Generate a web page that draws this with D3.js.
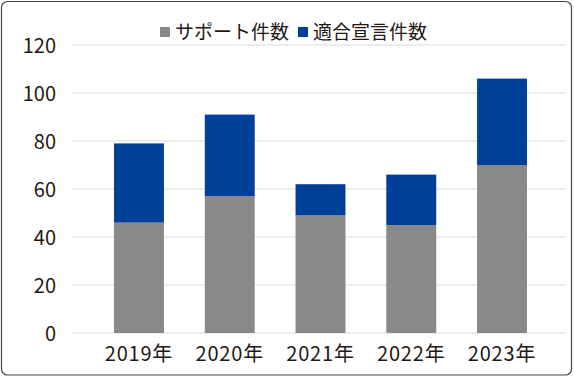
<!DOCTYPE html>
<html>
<head>
<meta charset="utf-8">
<script src="https://cdn.jsdelivr.net/npm/d3@7"></script>
<style>
  body { margin: 0; background: #fff; }
  svg { display: block; }
</style>
</head>
<body>
<div id="chart"></div>
<script>
const years = ['2019年', '2020年', '2021年', '2022年', '2023年']
const supportCounts = [46, 57, 49, 45, 70]
const declarationCounts = [33, 34, 13, 21, 36]
const yTicks = [0, 20, 40, 60, 80, 100, 120]
const seriesNames = ['サポート件数', '適合宣言件数']
const colors = ['#898989', '#004098']

const W = 574, H = 377
const font = '"Noto Sans CJK JP", "Noto Sans", sans-serif'
const textColor = '#231815'

const svg = d3.select('#chart').append('svg')
  .attr('width', W).attr('height', H)

// frame
svg.append('rect')
  .attr('x', 1.5).attr('y', 1.5)
  .attr('width', 570).attr('height', 373.5)
  .attr('rx', 6)
  .attr('fill', '#fff').attr('stroke', '#444').attr('stroke-width', 1.2)

const x = d3.scaleBand().domain(years).range([93.6, 547.4]).paddingInner(0.45).paddingOuter(0.225)
const y = d3.scaleLinear().domain([0, 120]).range([333, 45])

// gridlines
svg.append('g').selectAll('line').data(yTicks).join('line')
  .attr('x1', 72).attr('x2', 565)
  .attr('y1', d => y(d)).attr('y2', d => y(d))
  .attr('stroke', '#d9d9d9').attr('stroke-width', 1)

// y labels
svg.append('g').selectAll('text').data(yTicks).join('text')
  .attr('x', 56).attr('y', d => y(d) + 7.5)
  .attr('text-anchor', 'end')
  .style('font-family', font).style('font-size', '20px')
  .attr('fill', textColor)
  .text(d => d)

// stacked bars
const rows = years.map((yr, i) => ({ year: yr, support: supportCounts[i], decl: declarationCounts[i] }))
const stack = d3.stack().keys(['support', 'decl'])(rows)

svg.append('g').selectAll('g').data(stack).join('g')
  .attr('fill', (d, i) => colors[i])
  .selectAll('rect').data(d => d).join('rect')
  .attr('x', d => x(d.data.year))
  .attr('width', x.bandwidth())
  .attr('y', d => y(d[1]))
  .attr('height', d => y(d[0]) - y(d[1]))

// x labels
svg.append('g').selectAll('text').data(years).join('text')
  .attr('x', d => x(d) + x.bandwidth() / 2)
  .attr('y', 361)
  .attr('text-anchor', 'middle')
  .style('font-family', font).style('font-size', '20px')
  .style('letter-spacing', '0.8px')
  .attr('fill', textColor)
  .text(d => d)

// legend
const legend = svg.append('g')
const legendX = [160, 298]
seriesNames.forEach((name, i) => {
  legend.append('rect')
    .attr('x', legendX[i]).attr('y', 27)
    .attr('width', 10).attr('height', 10)
    .attr('fill', colors[i])
  legend.append('text')
    .attr('x', legendX[i] + 15).attr('y', 39)
    .style('font-family', font).style('font-size', '19px')
    .attr('fill', textColor)
    .text(name)
})
</script>
</body>
</html>
